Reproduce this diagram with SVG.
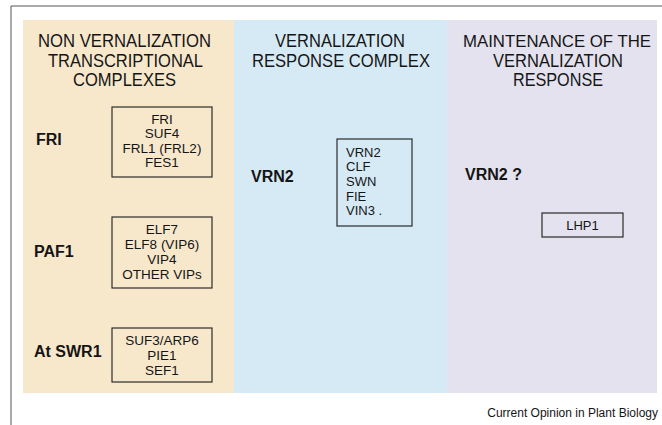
<svg xmlns="http://www.w3.org/2000/svg" width="662" height="425" viewBox="0 0 662 425">
  <style>
    text { font-family: "Liberation Sans", Arial, Helvetica, sans-serif; fill: #151515; }
    .head { font-size: 18px; text-anchor: middle; }
    .lbl { font-size: 16px; font-weight: bold; }
    .item { font-size: 13.5px; }
    .left { font-size: 13px; }
    .mid { text-anchor: middle; }
    .box { fill: none; stroke: #2b2b2b; stroke-width: 1.2; }
    .foot { font-size: 12px; text-anchor: end; }
  </style>

  <!-- page background and frame -->
  <rect x="0" y="0" width="662" height="425" fill="#ffffff"/>
  <line x1="11" y1="6" x2="662" y2="6" stroke="#555555" stroke-width="1"/>
  <line x1="11" y1="6" x2="11" y2="425" stroke="#555555" stroke-width="1"/>

  <!-- column panels -->
  <g id="panels">
    <rect x="23" y="20" width="211" height="373" fill="#f7e8cc"/>
    <rect x="234" y="20" width="213" height="373" fill="#d5eaf5"/>
    <rect x="447" y="20" width="210" height="373" fill="#e3e2ee"/>
  </g>

  <!-- column headings -->
  <g id="heading-non-vernalization">
    <text class="head" x="124.5" y="47" textLength="173" lengthAdjust="spacingAndGlyphs">NON VERNALIZATION</text>
    <text class="head" x="125.5" y="67" textLength="155" lengthAdjust="spacingAndGlyphs">TRANSCRIPTIONAL</text>
    <text class="head" x="124.5" y="86" textLength="103" lengthAdjust="spacingAndGlyphs">COMPLEXES</text>
  </g>
  <g id="heading-vernalization">
    <text class="head" x="340" y="47" textLength="130" lengthAdjust="spacingAndGlyphs">VERNALIZATION</text>
    <text class="head" x="341" y="67" textLength="178" lengthAdjust="spacingAndGlyphs">RESPONSE COMPLEX</text>
  </g>
  <g id="heading-maintenance">
    <text class="head" x="557" y="47" style="font-size:16.8px">MAINTENANCE OF THE</text>
    <text class="head" x="558" y="67" textLength="130" lengthAdjust="spacingAndGlyphs">VERNALIZATION</text>
    <text class="head" x="558" y="86" textLength="90" lengthAdjust="spacingAndGlyphs">RESPONSE</text>
  </g>

  <!-- FRI complex -->
  <g id="fri">
    <text class="lbl" x="36" y="145">FRI</text>
    <rect class="box" x="112" y="107" width="100" height="70"/>
    <text class="item mid" x="162" y="124">FRI</text>
    <text class="item mid" x="162" y="138">SUF4</text>
    <text class="item mid" x="162" y="153">FRL1 (FRL2)</text>
    <text class="item mid" x="162" y="167">FES1</text>
  </g>

  <!-- PAF1 complex -->
  <g id="paf1">
    <text class="lbl" x="34" y="257">PAF1</text>
    <rect class="box" x="112" y="217" width="100" height="71"/>
    <text class="item mid" x="162" y="234">ELF7</text>
    <text class="item mid" x="162" y="249">ELF8 (VIP6)</text>
    <text class="item mid" x="162" y="264">VIP4</text>
    <text class="item mid" x="162" y="279">OTHER VIPs</text>
  </g>

  <!-- At SWR1 complex -->
  <g id="swr1">
    <text class="lbl" x="34" y="357">At SWR1</text>
    <rect class="box" x="112" y="328" width="100" height="54"/>
    <text class="item mid" x="162" y="345">SUF3/ARP6</text>
    <text class="item mid" x="162" y="360">PIE1</text>
    <text class="item mid" x="162" y="375">SEF1</text>
  </g>

  <!-- VRN2 vernalization response complex -->
  <g id="vrn2">
    <text class="lbl" x="251" y="182">VRN2</text>
    <rect class="box" x="337" y="139" width="75" height="87"/>
    <text class="left" x="346" y="157">VRN2</text>
    <text class="left" x="346" y="171">CLF</text>
    <text class="left" x="346" y="186">SWN</text>
    <text class="left" x="346" y="201">FIE</text>
    <text class="left" x="346" y="215">VIN3 .</text>
  </g>

  <!-- maintenance -->
  <g id="maintenance">
    <text class="lbl" x="465" y="180">VRN2  ?</text>
    <rect class="box" x="542" y="213" width="81" height="24"/>
    <text class="left mid" x="582.5" y="230">LHP1</text>
  </g>

  <g id="connectors"/>

  <text class="foot" x="658" y="417">Current Opinion in Plant Biology</text>
</svg>
